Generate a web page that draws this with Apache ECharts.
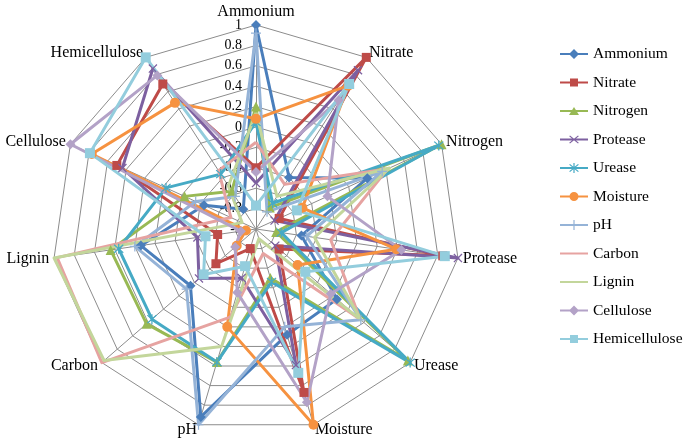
<!DOCTYPE html>
<html>
<head>
<meta charset="utf-8">
<script src="https://cdn.jsdelivr.net/npm/echarts@6/dist/echarts.min.js"></script>
<style>
  html, body { margin: 0; padding: 0; background: #fff; }
  #main { width: 685px; height: 445px; }
</style>
</head>
<body>
<div id="main"></div>
<script>
// axes of the radar, clockwise from the top
var axisNames = ['Ammonium', 'Nitrate', 'Nitrogen', 'Protease', 'Urease', 'Moisture',
  'pH', 'Carbon', 'Lignin', 'Cellulose', 'Hemicellulose'];

// one row of the correlation matrix per series (same order as axisNames)
var ammonium      = [1, -0.40, 0.20, -0.55, 0.05, 0.08, 0.92, -0.15, 0.14, -0.44, -0.77];
var nitrate       = [-0.40, 1, -0.75, 0.85, -0.70, 0.67, -0.80, -0.48, -0.62, 0.50, 0.69];
var nitrogen      = [0.20, -0.75, 1, -0.80, 0.97, -0.50, 0.36, 0.42, 0.44, -0.23, -0.56];
var protease      = [-0.55, 0.85, -0.80, 1, -0.75, 0.39, -0.50, -0.26, -0.42, 0.44, 0.87];
var urease        = [0.05, -0.70, 0.97, -0.75, 1, -0.46, 0.36, 0.35, 0.36, -0.03, -0.36];
var moisture      = [0.08, 0.67, -0.50, 0.39, -0.46, 1, 0.00, -0.75, -0.90, 0.77, 0.47];
var ph            = [0.92, -0.80, 0.36, -0.50, 0.36, 0.00, 1, -0.10, 0.20, -0.35, -0.62];
var carbon        = [-0.15, -0.48, 0.42, -0.26, 0.35, -0.75, -0.10, 1, 0.97, -0.73, -0.32];
var lignin        = [0.14, -0.62, 0.44, -0.42, 0.36, -0.90, 0.20, 0.97, 1, -0.85, -0.50];
var cellulose     = [-0.44, 0.50, -0.23, 0.44, -0.03, 0.77, -0.35, -0.73, -0.85, 1, 0.79];
var hemicellulose = [-0.77, 0.69, -0.56, 0.87, -0.36, 0.47, -0.62, -0.32, -0.50, 0.79, 1];

var rows = [ammonium, nitrate, nitrogen, protease, urease, moisture, ph, carbon, lignin, cellulose, hemicellulose];

var colors = ['#4A7EBB', '#BE4B48', '#98B954', '#7D60A0', '#46AAC5', '#F69240',
  '#95B3D7', '#E6A3A1', '#C3D69B', '#B3A2C7', '#93CDDD'];

var X_PATH = 'path://M1,0 L5,4 L9,0 L10,1 L6,5 L10,9 L9,10 L5,6 L1,10 L0,9 L4,5 L0,1 Z';
var STAR_PATH = 'path://M1,0.6 L5,4.2 L9,0.6 L9.8,1.4 L5.8,5 L9.8,8.6 L9,9.4 L5,5.8 L1,9.4 L0.2,8.6 L4.2,5 L0.2,1.4 Z M4.4,0 L5.6,0 L5.6,10 L4.4,10 Z';
var PLUS_PATH = 'path://M4.4,0 L5.6,0 L5.6,4.4 L10,4.4 L10,5.6 L5.6,5.6 L5.6,10 L4.4,10 L4.4,5.6 L0,5.6 L0,4.4 L4.4,4.4 Z';
var symbols = ['diamond', 'rect', 'triangle', X_PATH, STAR_PATH, 'circle', PLUS_PATH, 'none', 'none', 'diamond', 'rect'];
var symbolSizes = [10, 9, 10, 9, 10, 10, 10, 0, 0, 10, 10];

// legend icons: a line with the marker drawn in its middle (28 x 10 box)
var BAR = 'M0,4 L28,4 L28,6 L0,6 Z';
var legendIcons = [
  'path://' + BAR + ' M14,0 L19,5 L14,10 L9,5 Z',
  'path://' + BAR + ' M10,1 L18,1 L18,9 L10,9 Z',
  'path://' + BAR + ' M14,1 L19,9 L9,9 Z',
  'path://' + BAR + ' M10,1 L14,4.2 L18,1 L18.8,1.8 L14.8,5 L18.8,8.2 L18,9 L14,5.8 L10,9 L9.2,8.2 L13.2,5 L9.2,1.8 Z',
  'path://' + BAR + ' M10,1 L14,4.2 L18,1 L18.8,1.8 L14.8,5 L18.8,8.2 L18,9 L14,5.8 L10,9 L9.2,8.2 L13.2,5 L9.2,1.8 Z M13.4,0 L14.6,0 L14.6,10 L13.4,10 Z',
  'path://' + BAR + ' M14,0.5 A4.5,4.5 0 1 1 14,9.5 A4.5,4.5 0 1 1 14,0.5 Z',
  'path://' + BAR + ' M13.4,0 L14.6,0 L14.6,10 L13.4,10 Z',
  'path://' + BAR,
  'path://' + BAR,
  'path://' + BAR + ' M14,0 L19,5 L14,10 L9,5 Z',
  'path://' + BAR + ' M10,1 L18,1 L18,9 L10,9 Z'
];

var FONT = "'Liberation Serif', 'Times New Roman', serif";

// ECharts lays radar indicators out counter-clockwise, so feed them reversed after the first
var order = [0, 10, 9, 8, 7, 6, 5, 4, 3, 2, 1];

var indicators = order.map(function (i) {
  return { name: axisNames[i], min: -1, max: 1 };
});

var seriesData = rows.map(function (row, k) {
  return {
    name: axisNames[k],
    value: order.map(function (i) { return row[i]; }),
    symbol: symbols[k],
    symbolSize: symbolSizes[k],
    lineStyle: { color: colors[k], width: 3 },
    itemStyle: { color: colors[k] }
  };
});

var myChart = echarts.init(document.getElementById('main'));
myChart.setOption({
  animation: false,
  color: colors,
  legend: {
    orient: 'vertical',
    left: 555,
    top: 41,
    itemWidth: 28,
    itemHeight: 10,
    itemGap: 12.5,
    textStyle: { fontFamily: FONT, fontSize: 15.5, color: '#000' },
    data: axisNames.map(function (n, k) {
      return { name: n, icon: legendIcons[k], itemStyle: { color: colors[k] } };
    })
  },
  radar: {
    center: [256, 229],
    radius: 204,
    startAngle: 90,
    shape: 'polygon',
    splitNumber: 10,
    indicator: indicators,
    axisName: { color: '#000', fontFamily: FONT, fontSize: 16 },
    nameGap: 5,
    axisLine: { lineStyle: { color: '#8c8c8c', width: 1 } },
    splitLine: { lineStyle: { color: '#8c8c8c', width: 1 } },
    splitArea: { show: false }
  },
  // polar system only used to print the tick labels along the Ammonium axis
  polar: { center: [256, 229], radius: 204 },
  angleAxis: {
    startAngle: 90,
    axisLine: { show: false },
    axisTick: { show: false },
    axisLabel: { show: false },
    splitLine: { show: false }
  },
  radiusAxis: {
    min: -1,
    max: 1,
    interval: 0.2,
    axisLine: { show: false },
    axisTick: { show: false },
    splitLine: { show: false },
    axisLabel: { fontFamily: FONT, fontSize: 14, color: '#000', margin: 14 }
  },
  series: [{
    type: 'radar',
    data: seriesData
  }]
});
</script>
</body>
</html>
